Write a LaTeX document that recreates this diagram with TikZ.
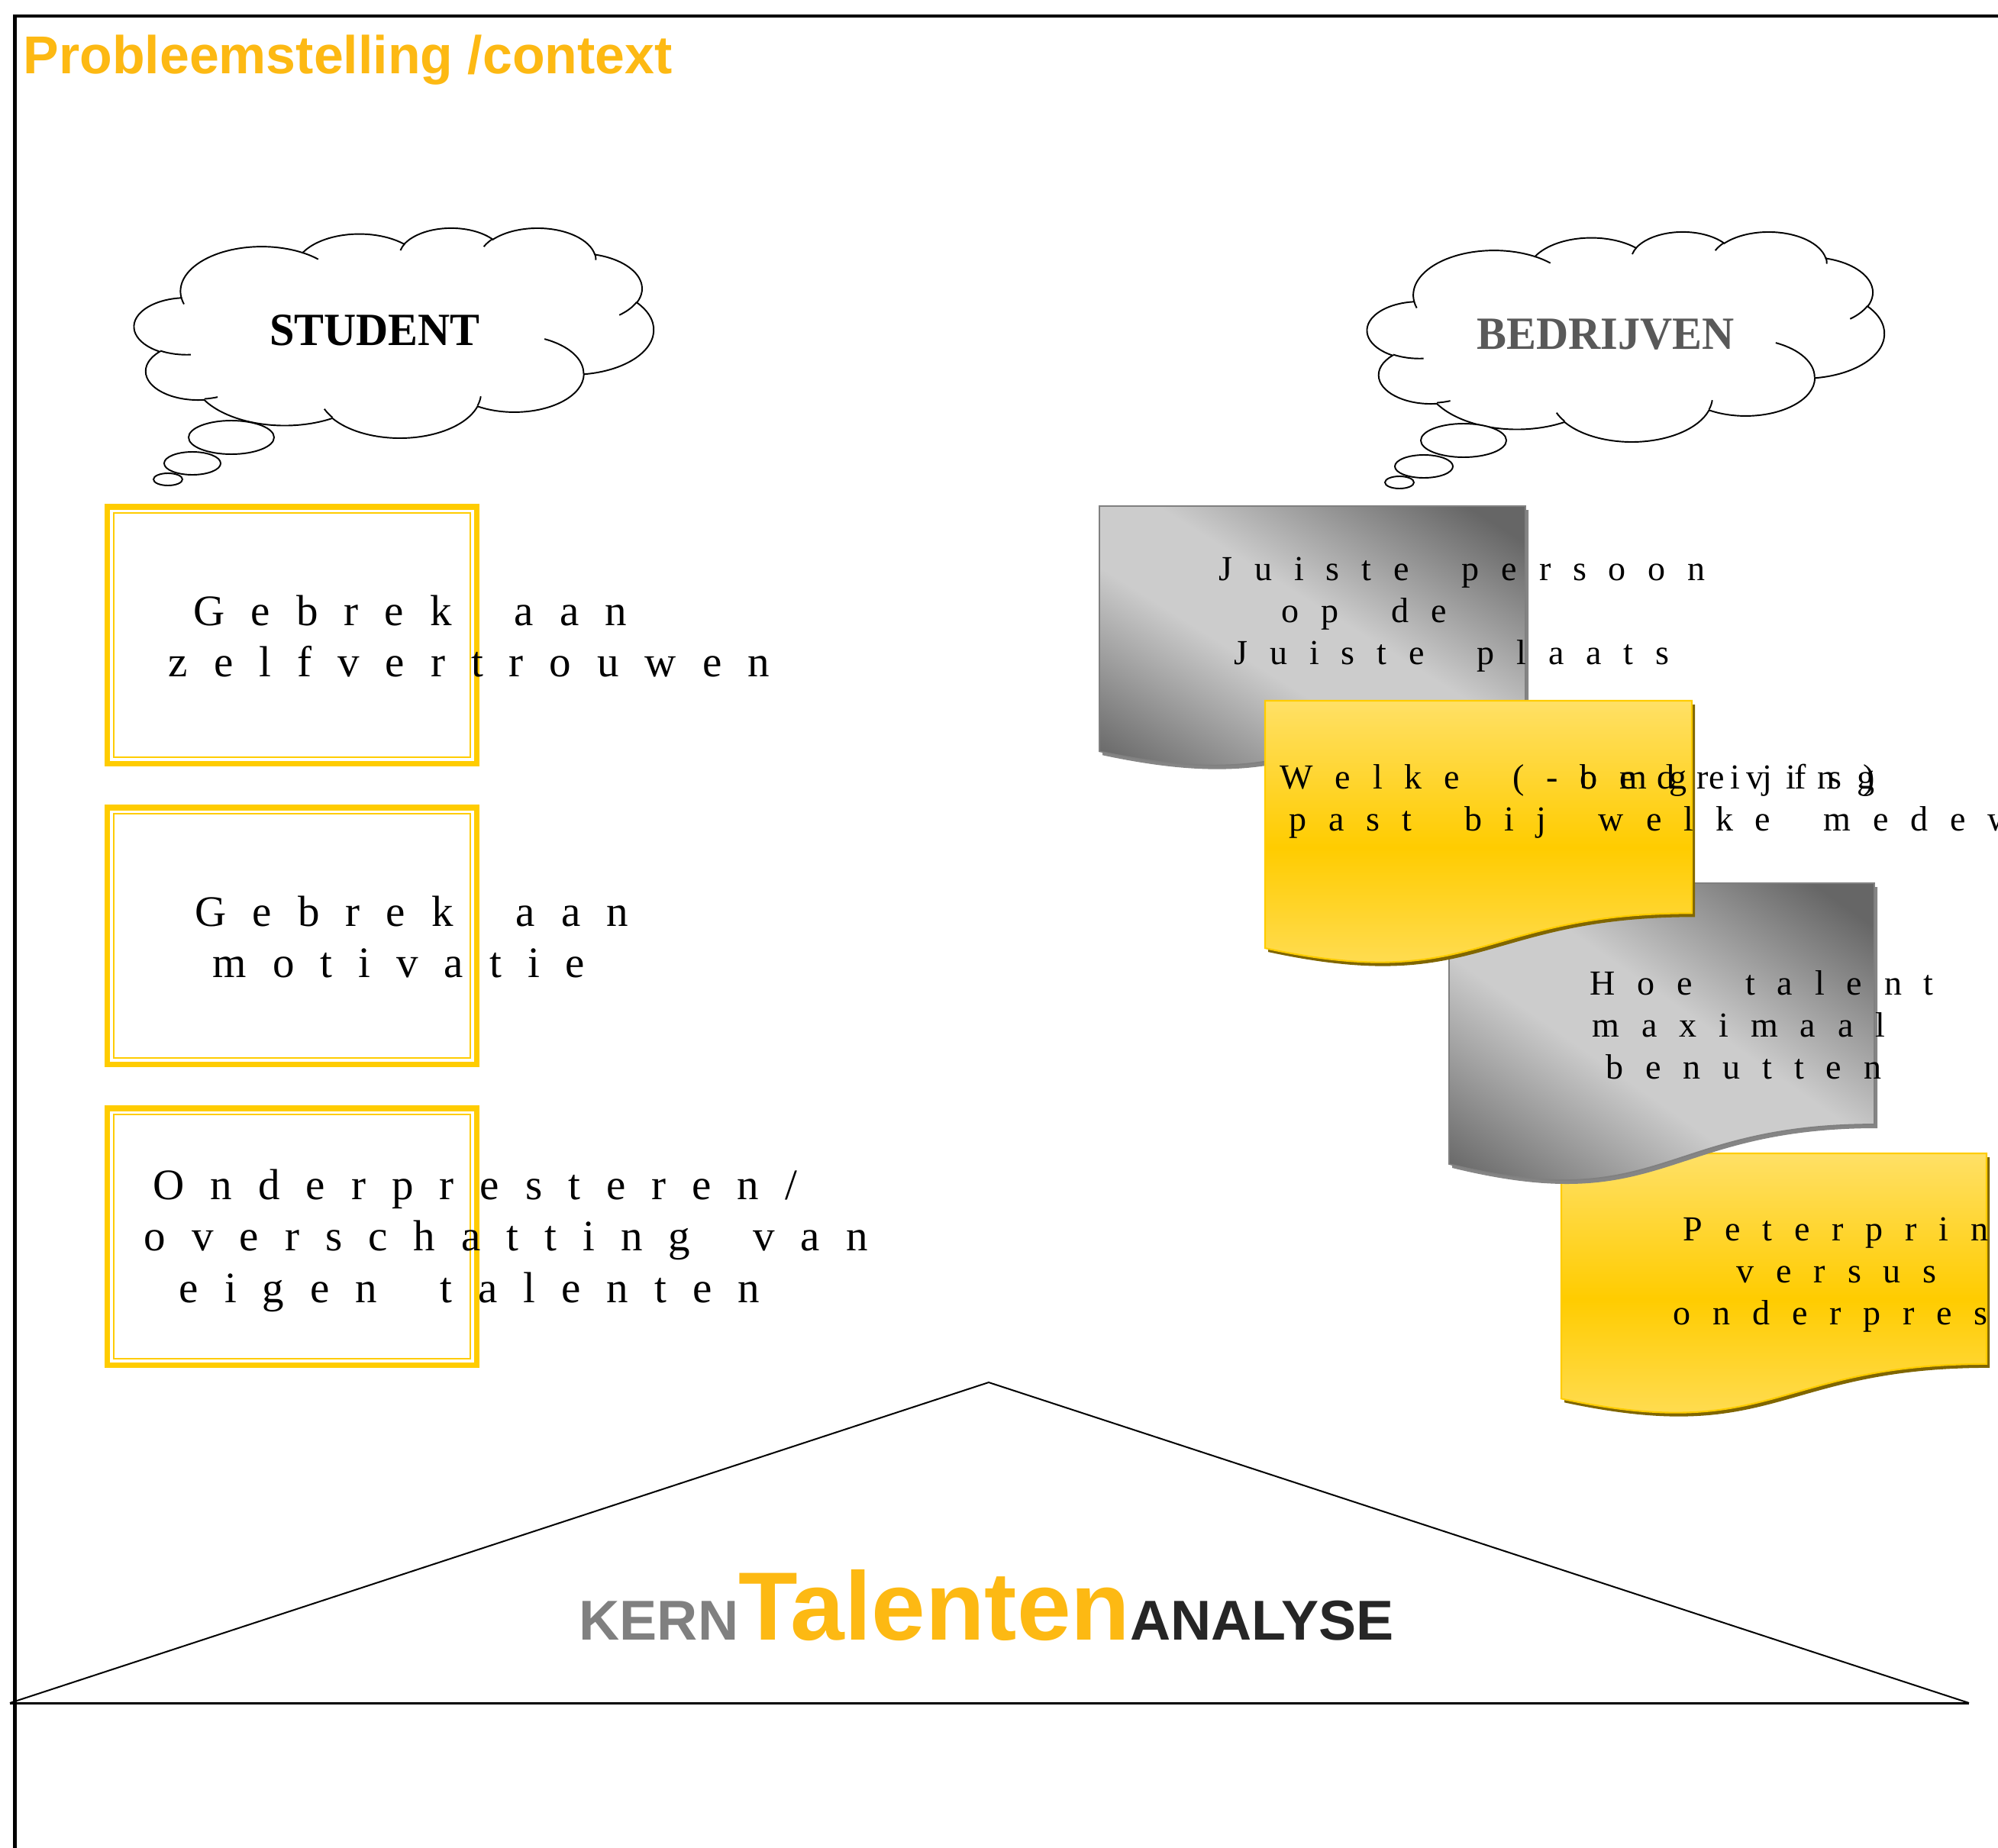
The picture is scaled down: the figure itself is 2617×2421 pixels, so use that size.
\documentclass[tikz,border=0pt]{standalone}
\usepackage{fontspec}
\setmainfont{Liberation Serif}
\newfontfamily\arialfont{Liberation Sans}
\definecolor{ttl}{HTML}{FDB913}
\definecolor{ygold}{HTML}{FFCC00}
\definecolor{ylight}{HTML}{FFE066}
\definecolor{yshadow}{HTML}{806600}
\definecolor{gdark}{HTML}{666666}
\definecolor{glight}{HTML}{CCCCCC}
\definecolor{gedge}{HTML}{808080}
\definecolor{gshadow}{HTML}{858585}
\definecolor{bedr}{HTML}{595959}
\definecolor{kerncol}{HTML}{808080}
\definecolor{anal}{HTML}{262626}

\pgfdeclareverticalshading{gdocsh}{100bp}{color(0bp)=(gdark); color(20bp)=(gdark); color(44bp)=(glight); color(56bp)=(glight); color(80bp)=(gdark); color(100bp)=(gdark)}

\newdimen\lsp
\makeatletter
\newcommand\spc[1]{\@tfor\spc@c:=#1\do{\spc@c\kern\lsp}}
\makeatother
\newcommand\wsp{\kern.25em\kern\lsp}

\newcommand\ca[4]{%
 \pgfextra{%
  \pgfmathsetmacro\caS{atan2((#1)*sin(#3),(#2)*cos(#3))}%
  \pgfmathsetmacro\caE{atan2((#1)*sin((#3)+(#4)),(#2)*cos((#3)+(#4)))}%
  \pgfmathsetmacro\caD{mod(\caE-\caS+720,360)}%
  \xdef\caSg{\caS}\xdef\caDg{\caD}}%
 arc[start angle=\caSg, delta angle=\caDg, x radius=#1, y radius=#2]}

\newcommand\cloudshape[4]{%
 \begin{scope}[shift={(#1,#2)}, x={(#3/432,0)}, y={(0,#4/432)}]
  \path[cloudline, fill=white] (39.00,143.70)
   \ca{67.53}{91.90}{-190.4875}{123.7805}
   \ca{53.33}{72.67}{-144.1024}{89.9452}
   \ca{43.65}{59.45}{-145.8079}{99.7230}
   \ca{48.57}{65.95}{-130.9861}{117.2417}
   \ca{53.33}{72.73}{-78.7089}{109.0269}
   \ca{67.75}{92.20}{-46.2673}{130.2690}
   \ca{57.85}{78.67}{0.6250}{114.0333}
   \ca{67.52}{92.15}{22.4516}{115.1726}
   \ca{77.20}{105.43}{66.2426}{75.7110}
   \ca{43.60}{59.18}{-274.9421}{146.7356}
   \ca{43.45}{59.45}{-246.8285}{152.5189} -- cycle;
  \draw[cloudline]
   (46.93,261.77) \ca{43.45}{59.45}{86.7420}{26.4295}
   (69.28,348.99) \ca{43.60}{59.18}{73.6105}{11.4475}
   (164.78,390.90) \ca{67.52}{92.15}{137.6242}{14.0811}
   (288.27,347.51) \ca{67.52}{92.15}{6.4533}{15.9984}
   (341.29,229.54) \ca{57.85}{78.67}{-70.2924}{70.9174}
   (417.98,153.54) \ca{53.33}{72.73}{30.3180}{27.7515}
   (383.24,54.26) \ca{48.57}{65.95}{-13.7443}{14.8589}
   (290.78,39.52) \ca{48.57}{65.95}{-149.1815}{18.1954}
   (221.41,47.20) \ca{43.65}{59.45}{-163.4943}{17.6864}
   (140.00,51.92) \ca{67.53}{91.90}{-66.7070}{12.3194}
   (41.27,157.89) \ca{67.53}{91.90}{157.6544}{11.8582};
 \end{scope}}

\newcommand\docpath{(0,0) -- (1,0) -- (1,0.802) .. controls (0.5,0.802) and (0.5,1.1075) .. (0,0.934) -- cycle}
\newcommand\docshape[6]{%
 \begin{scope}[shift={(#1+4,#2+5)}, x={(#3,0)}, y={(0,#4)}]
  \fill[#6] \docpath;
 \end{scope}
 \begin{scope}[shift={(#1,#2)}, x={(#3,0)}, y={(0,#4)}]
  \path[#5] \docpath;
 \end{scope}}

\newcommand\yframe[1]{%
 \draw[yout] (140.75,#1+3.75) rectangle (624.25,#1+340.25);
 \draw[yin] (149,#1+12) rectangle (616,#1+332);}

\newcommand\titlefont{\arialfont\bfseries\fontsize{19.86pt}{24pt}\selectfont}
\newcommand\cloudfont{\bfseries\fontsize{17.19pt}{20pt}\selectfont}
\newcommand\boxfont{\fontsize{16.22pt}{19pt}\selectfont\lsp=9.67pt\relax}
\newcommand\docfont{\fontsize{13.09pt}{16pt}\selectfont\lsp=8.2pt\relax}

\begin{document}
\begin{tikzpicture}[x=0.01cm, y=-0.01cm,
  cloudline/.style={draw=black, line width=0.55pt},
  graydoc/.style={shading=gdocsh, shading angle=#1, draw=gedge, line width=0.5pt},
  yeldoc/.style={top color=ylight, bottom color=ylight, middle color=ygold, draw=ygold, line width=0.6pt},
  yout/.style={draw=ygold, line width=2.13pt},
  yin/.style={draw=ygold, line width=0.7pt},
  boxtxt/.style={anchor=base west, inner sep=0pt, font=\boxfont},
  doctxt/.style={anchor=base west, inner sep=0pt, font=\docfont}]
\useasboundingbox (0,0) rectangle (2617,2421);
\clip (0,0) rectangle (2617,2421);

% frame
\draw[line width=1.42pt] (19.5,2421) -- (19.5,21) -- (2617,21);

% title
\node[anchor=base west, inner sep=0pt, text=ttl, font=\titlefont] (title) at (30,96) {Probleemstelling /context};

% clouds
\cloudshape{176}{298}{680}{275}
\draw[cloudline, fill=white] (303,573) ellipse [x radius=56, y radius=22];
\draw[cloudline, fill=white] (252,607) ellipse [x radius=37, y radius=15];
\draw[cloudline, fill=white] (220,628) ellipse [x radius=19, y radius=8];
\node[anchor=base, inner sep=0pt, font=\cloudfont, xscale=0.965] (student) at (491,452) {STUDENT};

\cloudshape{1791}{303}{677}{275}
\draw[cloudline, fill=white] (1917,577) ellipse [x radius=56, y radius=22];
\draw[cloudline, fill=white] (1865,611) ellipse [x radius=38, y radius=15];
\draw[cloudline, fill=white] (1833,632) ellipse [x radius=19, y radius=8];
\node[anchor=base, inner sep=0pt, font=\cloudfont, text=bedr, xscale=0.965] (bedrijven) at (2103,457) {BEDRIJVEN};

% yellow framed boxes
\yframe{660}
\yframe{1054}
\yframe{1448}

% document shapes
\docshape{1440}{663}{558}{344}{graydoc=-32}{gshadow}
\docshape{2045}{1511}{557}{344}{yeldoc}{yshadow}
\docshape{1898}{1157}{557}{394}{graydoc=-35}{gshadow}
\docshape{1657}{918}{559}{347}{yeldoc}{yshadow}

% box texts
\node[boxtxt] (b1a) at (253,819) {\spc{Gebrek}\wsp\spc{aan}};
\node[boxtxt] (b1b) at (220,886) {\spc{zelfvertrouwen}};
\node[boxtxt] (b2a) at (255,1213) {\spc{Gebrek}\wsp\spc{aan}};
\node[boxtxt] (b2b) at (278,1280) {\spc{motivatie}};
\node[boxtxt] (b3a) at (200,1571) {\spc{Onderpresteren/}};
\node[boxtxt] (b3b) at (188,1638) {\spc{overschatting}\wsp\spc{van}};
\node[boxtxt] (b3c) at (234,1706) {\spc{eigen}\wsp\spc{talenten}};

% document texts
\node[doctxt] (g1a) at (1596,760) {\spc{Juiste}\wsp\spc{persoon}};
\node[doctxt] (g1b) at (1678,815) {\spc{op}\wsp\spc{de}};
\node[doctxt] (g1c) at (1616,870) {\spc{Juiste}\wsp\spc{plaats}};
\node[doctxt] (y1a) at (1676,1033) {\spc{Welke}\wsp\spc{(-bedrijfs)}};
\node[doctxt] (y1o) at (1676,1033) {\phantom{\spc{Welke}\wsp\spc{(-}}\spc{omgeving}};
\node[doctxt] (y1b) at (1688,1088) {\spc{past}\wsp\spc{bij}\wsp\spc{welke}\wsp\spc{medew}};
\node[doctxt] (g2a) at (2082,1303) {\spc{Hoe}\wsp\spc{talent}};
\node[doctxt] (g2b) at (2085,1358) {\spc{maximaal}};
\node[doctxt] (g2c) at (2103,1413) {\spc{benutten}};
\node[doctxt] (y2a) at (2204,1625) {\spc{Peterprin}};
\node[doctxt] (y2b) at (2274,1680) {\spc{versus}};
\node[doctxt] (y2c) at (2191,1735) {\spc{onderpres}};

% triangle
\draw[line width=0.57pt, line join=round] (13,2231) -- (1295,1811) -- (2579,2231);
\draw[line width=0.85pt] (13,2231) -- (2579,2231);

% logo text
\node[anchor=base west, inner sep=0pt] (logo) at (758,2148) {\arialfont\bfseries\fontsize{20.94pt}{25pt}\selectfont\textcolor{kerncol}{KERN}{\fontsize{36.13pt}{40pt}\selectfont\textcolor{ttl}{Talenten}}\textcolor{anal}{ANALYSE}};
\end{tikzpicture}
\end{document}
